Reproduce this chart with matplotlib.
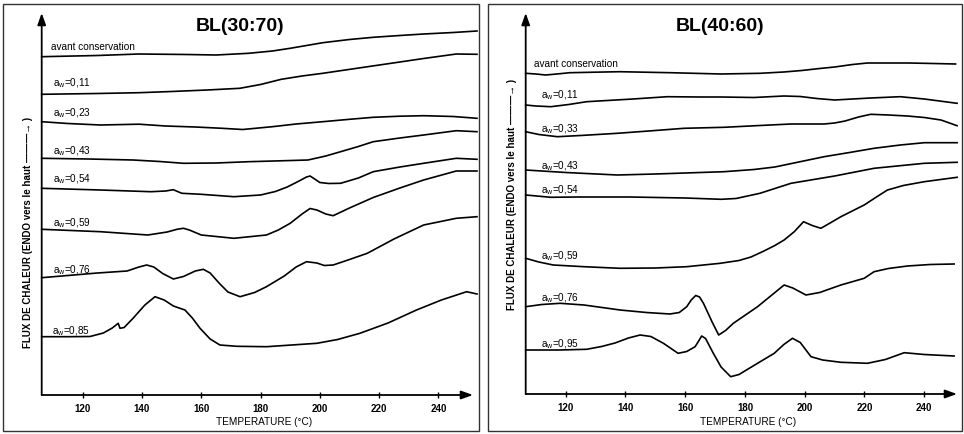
import matplotlib
matplotlib.use('Agg')
import matplotlib.pyplot as plt
from matplotlib.patches import Rectangle

plt.rcParams['font.family'] = ['Liberation Sans', 'DejaVu Sans']
plt.rcParams['mathtext.fontset'] = 'custom'
plt.rcParams['mathtext.rm'] = 'Liberation Sans'
plt.rcParams['mathtext.it'] = 'Liberation Sans:italic'

# ---------------- data: left panel BL(30:70) ----------------
L_avant_T = [106.2, 125, 139, 155, 165, 176, 184, 190, 201, 210, 218, 227, 235, 245, 253]
L_avant_y = [338.3, 339.5, 341, 340.5, 340, 341.7, 344, 346.7, 352.3, 355.5, 357.7, 359.5, 361, 362.5, 364]

L_011_T = [106.2, 125, 139, 150, 162, 173, 180, 187, 194, 201, 212, 224, 235, 246, 253]
L_011_y = [300.7, 301.5, 302.3, 303.5, 305, 306.7, 310.5, 315.7, 319, 321.7, 326.5, 331.7, 336.5, 341, 340.7]

L_023_T = [106.2, 115, 126, 139, 148, 158, 167, 174, 184, 192, 201, 210, 218, 227, 235, 245, 253]
L_023_y = [273.3, 271.5, 270, 270.8, 269, 268, 266.7, 265.5, 268.3, 271, 273.3, 275.7, 277.7, 278.8, 279.3, 278.5, 276.7]

L_043_T = [106.2, 122, 137, 146, 154, 165, 176, 188, 196, 202, 207, 213, 218, 227, 235, 246, 253]
L_043_y = [236.7, 236, 235, 233.5, 231.7, 232, 233.3, 234.3, 235, 239, 243.3, 248.5, 253.3, 257, 260, 264.3, 263.3]

L_054_T = [106.2, 126, 143, 148, 150.6, 152, 153.5, 160, 171, 180, 185, 189, 193, 195.5, 196.7,
           198, 200, 203, 207, 213, 218, 227, 235, 246, 253]
L_054_y = [206.7, 205, 203.3, 204, 205.3, 203.5, 201.7, 200.7, 198.3, 200, 203.5, 208, 214, 218, 219,
           216.5, 212.5, 211.5, 211.7, 217, 223.3, 228, 231.7, 236.7, 235.7]

L_059_T = [106.2, 126, 142, 148.5, 152, 154, 156, 160, 171, 182, 186, 190, 194, 196.7, 199, 202,
           204.5, 210, 218, 227, 235, 246, 253]
L_059_y = [165.7, 163.3, 160, 163, 165.8, 166.7, 165, 160, 156.7, 160, 165, 171.7, 181, 186.5, 185, 181,
           179.3, 187, 197.5, 207, 215, 224, 224]

L_076_T = [106.2, 115, 125, 135, 139, 141.6, 144, 147, 150.6, 154, 158, 160.7, 163, 166, 169, 173.1,
           178, 182, 188, 192, 195.5, 199, 201.5, 204.5, 210, 216, 225, 235, 246, 253]
L_076_y = [117.3, 119.5, 122, 124, 128, 130, 128, 121.5, 116, 118.5, 124, 125.7, 122, 112, 103, 98.3,
           102.5, 108.3, 119, 128, 133.3, 132, 129.5, 130, 135.5, 141.7, 156, 170, 176.7, 178.3]

L_085_T = [106.2, 115, 122.5, 127, 130, 131.5, 132, 132.6, 134, 137, 141, 144.4, 147.5, 150.6, 154.5,
           157, 159.6, 163, 166.3, 172, 182, 199, 206, 213.5, 223, 232.6, 241, 249.5, 253]
L_085_y = [58.3, 58.3, 58.5, 62, 67, 70.5, 71.7, 66.7, 67.5, 76.7, 90, 98.3, 95, 89, 85,
           77, 66.7, 56, 50, 48.7, 48.3, 51.7, 55.5, 61.7, 72, 85, 95, 103.3, 101]

# ---------------- data: right panel BL(40:60) ----------------
R_avant_T = [106.6, 110, 113.3, 117, 121.4, 138, 155, 172, 185, 193, 199, 205, 210, 216, 221, 228, 235, 243, 250.5]
R_avant_y = [320.7, 320, 319, 320, 321.3, 322.3, 321.3, 320, 320.7, 322, 323.5, 325.5, 327, 329.5, 331, 331, 331, 330.5, 330]

R_011_T = [106.6, 110, 115, 121, 127, 142.5, 154, 165, 172, 183, 193, 198.5, 204, 210, 216, 222, 232, 240, 251]
R_011_y = [289, 288, 287.3, 289.5, 292.3, 295, 297.3, 297, 297, 296.5, 298, 297.5, 295.5, 294, 295, 296, 297.3, 295, 290.7]

R_033_T = [106.6, 111, 117.2, 125, 137.3, 150, 159.6, 173, 185, 195.4, 206.5, 210, 213.5, 218, 222.1,
           228, 234.4, 240, 245.6, 251]
R_033_y = [262.3, 259.5, 257.3, 258.5, 260.7, 263.5, 265.7, 266.7, 268.5, 270, 270, 271, 273, 277, 279.7,
           279, 278, 276.5, 274, 268.3]

R_043_T = [106.6, 120, 137.3, 150, 160, 173, 183, 190, 198, 206.5, 215, 223.2, 232, 240, 251]
R_043_y = [224, 221.5, 219, 220, 221, 222.3, 224.5, 227, 232, 237.3, 241.5, 245.7, 249, 251.3, 251.3]

R_054_T = [106.6, 115, 124, 141.5, 160, 172, 177, 185, 195.4, 210, 223.2, 240, 251]
R_054_y = [199, 196.7, 197, 197, 196, 194.7, 195.5, 200.7, 210.7, 218, 225.7, 230.7, 231.7]

R_059_T = [106.6, 111, 115.8, 126.1, 138.2, 150, 160.5, 171.7, 178, 182, 186, 190, 193.1, 196.5, 199.6,
           202.5, 205.4, 208.5, 212.1, 219.9, 224, 227.7, 233, 240, 251]
R_059_y = [135.7, 132, 129, 127.3, 125.7, 126, 127.3, 130.7, 133.5, 137, 142.5, 148.5, 154, 162.3, 172.3,
           168.5, 165.7, 171, 177.3, 189, 197, 204, 208.5, 212.3, 216.7]

R_076_T = [106.6, 112, 118.1, 126.1, 138.2, 147, 154.9, 158, 160.5, 162, 163.5, 164.8, 166.1, 169, 171.2,
           173.5, 176.1, 184.2, 189, 193.1, 196, 200.4, 205, 212.1, 219.9, 223.2, 228, 234.4, 242, 250]
R_076_y = [87.3, 89.5, 90.7, 89, 84, 81.5, 80, 81.5, 87.3, 94, 98.5, 97, 90.7, 72, 59,
           63.5, 70.7, 87.3, 99, 109, 106, 99, 101.5, 109, 115.7, 122.3, 125.5, 128, 129.5, 130]

R_095_T = [106.6, 118, 127, 132, 136.5, 141, 144.9, 148.5, 152.7, 155.5, 157.6, 160.5, 163.3, 164.5, 165.5,
           166.8, 169.4, 172, 175.2, 178, 184.2, 189.8, 193, 195.9, 198.5, 202.1, 206, 212.1, 221, 227,
           233.3, 240, 250]
R_095_y = [44, 44, 44.7, 47.5, 51, 56, 59, 57.5, 50.7, 45, 40.7, 42.5, 47.3, 53, 58,
           55.5, 40.7, 27, 17.3, 19.5, 30.7, 40.7, 49.5, 55.7, 51.5, 37.3, 34, 31.7, 30.7, 34.5,
           41.3, 39.5, 38]

L_labels = ['avant conservation', r'a$_\mathrm{w}$=0,11', r'a$_\mathrm{w}$=0,23', r'a$_\mathrm{w}$=0,43',
            r'a$_\mathrm{w}$=0,54', r'a$_\mathrm{w}$=0,59', r'a$_\mathrm{w}$=0,76', r'a$_\mathrm{w}$=0,85']
R_labels = ['avant conservation', r'a$_\mathrm{w}$=0,11', r'a$_\mathrm{w}$=0,33', r'a$_\mathrm{w}$=0,43',
            r'a$_\mathrm{w}$=0,54', r'a$_\mathrm{w}$=0,59', r'a$_\mathrm{w}$=0,76', r'a$_\mathrm{w}$=0,95']
L_label_pos = [(109.3, 348.3), (109.9, 311.7), (109.9, 281.7), (109.9, 243.3),
               (109.9, 216.0), (109.9, 171.7), (109.9, 125.0), (109.6, 63.3)]
R_label_pos = [(109.4, 329.7), (111.8, 299.0), (111.8, 264.7), (111.8, 228.0),
               (111.8, 204.0), (111.8, 138.0), (111.6, 95.7), (111.6, 50.0)]

xticks = [120, 140, 160, 180, 200, 220, 240]

L_curves = [(L_avant_T, L_avant_y), (L_011_T, L_011_y), (L_023_T, L_023_y), (L_043_T, L_043_y),
            (L_054_T, L_054_y), (L_059_T, L_059_y), (L_076_T, L_076_y), (L_085_T, L_085_y)]
R_curves = [(R_avant_T, R_avant_y), (R_011_T, R_011_y), (R_033_T, R_033_y), (R_043_T, R_043_y),
            (R_054_T, R_054_y), (R_059_T, R_059_y), (R_076_T, R_076_y), (R_095_T, R_095_y)]

W, H = 964, 434
fig = plt.figure(figsize=(W / 100, H / 100), dpi=100)


def px_box(l, r, top, bottom):
    return [l / W, (H - bottom) / H, (r - l) / W, (bottom - top) / H]


def setup(ax, xlim, ylim, xarrow_frac, title, title_xy, curves, labels, label_pos):
    ax.set_xlim(*xlim)
    ax.set_ylim(*ylim)
    for s in ax.spines.values():
        s.set_visible(False)
    ax.set_yticks([])
    ax.set_xticks(xticks)
    ax.tick_params(axis='x', direction='inout', length=4, width=1.0, labelsize=7, pad=4.5)
    for lb in ax.get_xticklabels():
        lb.set_fontweight('bold')
    ax.annotate('', xy=(0, 1), xytext=(0, 0), xycoords='axes fraction',
                arrowprops=dict(arrowstyle='-|>,head_length=0.7,head_width=0.25', lw=1.3,
                                color='k', shrinkA=0, shrinkB=0), annotation_clip=False)
    ax.annotate('', xy=(xarrow_frac, 0), xytext=(0, 0), xycoords='axes fraction',
                arrowprops=dict(arrowstyle='-|>,head_length=0.7,head_width=0.25', lw=1.3,
                                color='k', shrinkA=0, shrinkB=0), annotation_clip=False)
    for (T, y) in curves:
        ax.plot(T, y, color='k', lw=1.2, solid_joinstyle='round', clip_on=False)
    for lab, (x, y) in zip(labels, label_pos):
        ax.text(x, y, lab, fontsize=7.2, ha='left', va='center')
    ax.text(title_xy[0], title_xy[1], title, fontsize=14, fontweight='bold', ha='center', va='center')


axL = fig.add_axes(px_box(41.7, 477, 13, 395))
setup(axL, (106.2, 253.0), (0, 382), (473 - 41.7) / (477 - 41.7), 'BL(30:70)', (173, 368.3),
      L_curves, L_labels, L_label_pos)

axR = fig.add_axes(px_box(525.7, 958, 13, 394))
setup(axR, (106.6, 251.3), (0, 381), (957 - 525.7) / (958 - 525.7), 'BL(40:60)', (171.7, 367),
      R_curves, R_labels, R_label_pos)

# x labels
fig.text(264 / W, 1 - 421.7 / H, 'TEMPERATURE (°C)', fontsize=7.2, ha='center', va='center')
fig.text(748 / W, 1 - 421.7 / H, 'TEMPERATURE (°C)', fontsize=7.2, ha='center', va='center')

# y labels
ylab = 'FLUX DE CHALEUR (ENDO vers le haut ———→ )'
fig.text(28 / W, 1 - 232 / H, ylab, fontsize=7, fontweight='bold', rotation=90, ha='center', va='center')
fig.text(512 / W, 1 - 194 / H, ylab, fontsize=7, fontweight='bold', rotation=90, ha='center', va='center')

# panel frames
fig.add_artist(Rectangle((3 / W, (H - 431) / H), (479 - 3) / W, (431 - 4) / H, transform=fig.transFigure,
                         fill=False, lw=1.0, ec='#333333'))
fig.add_artist(Rectangle((488 / W, (H - 431) / H), (962 - 488) / W, (431 - 4) / H, transform=fig.transFigure,
                         fill=False, lw=1.0, ec='#333333'))

fig.savefig('out.png', dpi=100)
